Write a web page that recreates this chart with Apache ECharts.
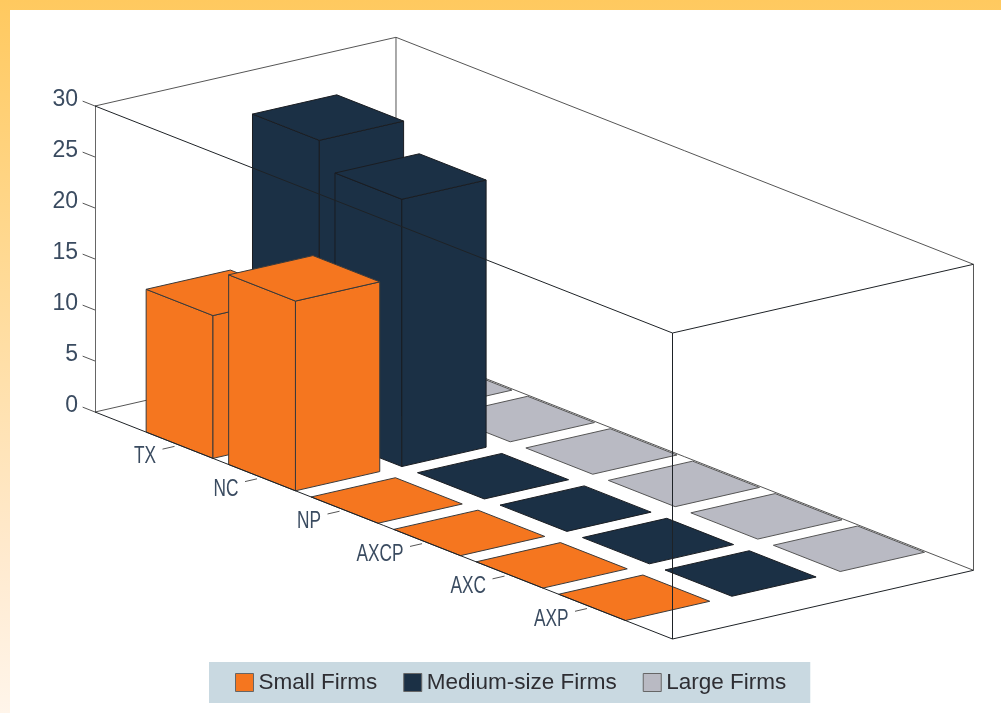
<!DOCTYPE html>
<html>
<head>
<meta charset="utf-8">
<script src="https://cdn.jsdelivr.net/npm/echarts@6/dist/echarts.min.js"></script>
<style>
html,body{margin:0;padding:0;width:1001px;height:713px;overflow:hidden;background:linear-gradient(to bottom,#ffc95f 0,#ffd88f 240px,#ffeacf 560px,#fff5ea 713px);}
#sheet{position:absolute;left:10px;top:10px;width:991px;height:703px;background:#fff;}
#main{position:absolute;left:0;top:0;width:1001px;height:713px;}
</style>
</head>
<body>
<div id="sheet"></div>
<div id="main"></div>
<script>
const categories = ['TX', 'NC', 'NP', 'AXCP', 'AXC', 'AXP'];
const smallFirms = [14, 18.6, 0, 0, 0, 0];
const mediumFirms = [28.8, 26.2, 0, 0, 0, 0];
const largeFirms = [0, 0, 0, 0, 0, 0];
const valueTicks = { min: 0, max: 30, interval: 5 };

// oblique projection: depth unit (firm-size lane) and shear per category unit, in px
const DEPTH_DX = 100.33, DEPTH_DY = -22.9, SHEAR_PER_CAT = 32.43;
const CAT_MAX = 7, DEPTH_MAX = 3;
const BAR_W = 0.81, BAR_D = 0.84, CAT_SHIFT = 0.025;
const LANE_START = { small: 0, medium: 1.06, large: 2.14 };

function project(api, u, v, z) {
  const p = api.coord([u, z]);
  return [p[0] + DEPTH_DX * v, p[1] + SHEAR_PER_CAT * u + DEPTH_DY * v];
}

function barRender(laneStart, fill, edge) {
  return function (params, api) {
    const uc = api.value(0) + 1 + CAT_SHIFT, h = api.value(1);
    const u0 = uc - BAR_W / 2, u1 = uc + BAR_W / 2, v0 = laneStart, v1 = laneStart + BAR_D;
    const style = { fill: fill, stroke: edge, lineWidth: 1, lineJoin: 'round' };
    const poly = pts => ({ type: 'polygon', shape: { points: pts }, style: style });
    const children = [];
    if (h > 0) {
      children.push(poly([project(api,u0,v0,0), project(api,u1,v0,0), project(api,u1,v0,h), project(api,u0,v0,h)]));
      children.push(poly([project(api,u1,v0,0), project(api,u1,v1,0), project(api,u1,v1,h), project(api,u1,v0,h)]));
    }
    children.push(poly([project(api,u0,v0,h), project(api,u1,v0,h), project(api,u1,v1,h), project(api,u0,v1,h)]));
    return { type: 'group', children: children };
  };
}

function barSeries(name, values, laneStart, fill, edge) {
  return {
    name: name, type: 'custom', coordinateSystem: 'cartesian2d', z: 3, silent: true,
    itemStyle: { color: fill },
    data: values.map((v, i) => [i, v]),
    renderItem: barRender(laneStart, fill, edge),
    encode: { x: 0, y: 1 }
  };
}

function edgeRender(color, width) {
  return function (params, api) {
    const a = project(api, api.value(0), api.value(1), api.value(2));
    const b = project(api, api.value(3), api.value(4), api.value(5));
    return { type: 'line', shape: { x1: a[0], y1: a[1], x2: b[0], y2: b[1] },
             style: { stroke: color, lineWidth: width, fill: null } };
  };
}

const U = CAT_MAX, V = DEPTH_MAX, Z = valueTicks.max;
const backEdges = [
  [0,0,Z, 0,V,Z], [0,V,Z, U,V,Z], [0,V,0, 0,V,Z], [0,0,0, 0,V,0], [0,V,0, U,V,0], [U,V,0, U,V,Z]
];
const frontEdges = [
  [0,0,Z, U,0,Z], [U,0,Z, U,V,Z], [U,0,0, U,0,Z], [0,0,0, U,0,0], [U,0,0, U,V,0]
];
const valueTickEdges = [];
for (let t = valueTicks.min; t <= valueTicks.max; t += valueTicks.interval) valueTickEdges.push([-0.15,0,t, 0,0,t]);
const catTickEdges = categories.map((c, i) => [i + 1 + CAT_SHIFT, -0.17, 0, i + 1 + CAT_SHIFT, -0.05, 0]);

function edgeSeries(edges, z, color, width) {
  return { type: 'custom', coordinateSystem: 'cartesian2d', z: z, silent: true, data: edges,
           renderItem: edgeRender(color, width), encode: { x: 0, y: 2 } };
}

const labelFont = '23px "Liberation Sans",sans-serif';
const labelColor = '#3a4b60';

const chart = echarts.init(document.getElementById('main'), null, { renderer: 'canvas' });
chart.setOption({
  animation: false,
  backgroundColor: 'transparent',
  grid: { left: 95, top: 106, width: 577.5, height: 306, containLabel: false },
  xAxis: { type: 'value', min: 0, max: CAT_MAX, show: false },
  yAxis: {
    type: 'value', min: valueTicks.min, max: valueTicks.max, interval: valueTicks.interval,
    axisLine: { show: true, lineStyle: { color: '#666', width: 1 } },
    axisTick: { show: false }, splitLine: { show: false },
    axisLabel: { margin: 17, color: labelColor, fontFamily: '"Liberation Sans",sans-serif', fontSize: 23, verticalAlign: 'bottom', lineHeight: 13 }
  },
  legend: {
    left: 209, top: 662,
    data: ['Small Firms', 'Medium-size Firms', 'Large Firms'],
    backgroundColor: '#c9d9e1', padding: [9, 24, 9, 26], itemGap: 26, itemWidth: 18, itemHeight: 18,
    icon: 'rect', selectedMode: false,
    itemStyle: { borderColor: '#666', borderWidth: 1 },
    textStyle: { color: '#2e2e33', fontFamily: '"Liberation Sans",sans-serif', fontSize: 22.5 }
  },
  series: [
    edgeSeries(backEdges, 1, '#555', 1),
    barSeries('Large Firms', largeFirms, LANE_START.large, '#b9bac3', '#555'),
    barSeries('Medium-size Firms', mediumFirms, LANE_START.medium, '#1b3045', '#1a1d22'),
    barSeries('Small Firms', smallFirms, LANE_START.small, '#f5761f', '#3a3a3a'),
    edgeSeries(frontEdges, 5, '#1e2226', 1),
    edgeSeries(valueTickEdges, 5, '#555', 1),
    edgeSeries(catTickEdges, 5, '#555', 1),
    {
      type: 'custom', coordinateSystem: 'cartesian2d', z: 6, silent: true,
      data: categories.map((c, i) => [i, 0]),
      encode: { x: 0, y: 1 },
      renderItem: function (params, api) {
        const p = project(api, api.value(0) + 1 + CAT_SHIFT, -0.235, 0);
        return { type: 'text', x: p[0], y: p[1] + 6.5, scaleX: 0.75, scaleY: 1,
                 style: { text: categories[params.dataIndex], x: 0, y: 0,
                 align: 'right', verticalAlign: 'middle', font: labelFont, fill: labelColor } };
      }
    }
  ]
});
</script>
</body>
</html>
